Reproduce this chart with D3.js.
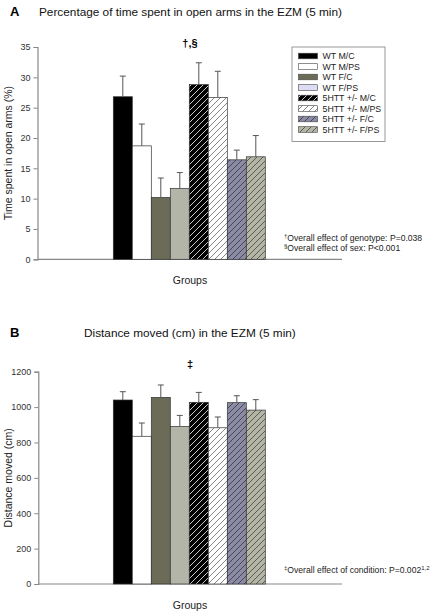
<!DOCTYPE html>
<html><head><meta charset="utf-8">
<script src="https://cdn.jsdelivr.net/npm/d3@7"></script>
<style>body{margin:0;background:#fff}svg{display:block;font-family:"Liberation Sans",Arial,sans-serif}</style>
</head><body><svg id="c" width="430" height="614"></svg>
<script>
const groups = ["WT M/C","WT M/PS","WT F/C","WT F/PS","5HTT +/- M/C","5HTT +/- M/PS","5HTT +/- F/C","5HTT +/- F/PS"];
const timeMean = [26.8, 18.7, 10.2, 11.7, 28.8, 26.7, 16.4, 16.9];
const timeErr  = [3.4, 3.6, 3.2, 2.6, 3.6, 4.3, 1.6, 3.5];
const distMean = [1040, 835, 1055, 891, 1027, 883, 1025, 983];
const distErr  = [47, 75, 70, 62, 56, 61, 39, 59];
const ticksA = [0,5,10,15,20,25,30,35];
const ticksB = [0,200,400,600,800,1000,1200];

const fills   = ["#000000","#ffffff","#6b6b57","#b4b5a9","#000000","#ffffff","#8b8ba4","#b4b5a4"];
const legendFills = ["#000000","#ffffff","#6b6b57","#dcdcf4","#000000","#ffffff","#8b8ba4","#b4b5a4"];
const hatchLine = [null,null,null,null,"#ffffff","#666666","#333344","#444444"];

const svg = d3.select("#c");
const defs = svg.append("defs");
groups.forEach((g,i)=>{
  if(!hatchLine[i]) return;
  const p = defs.append("pattern").attr("id","h"+i).attr("patternUnits","userSpaceOnUse")
    .attr("width",6).attr("height",6);
  p.append("rect").attr("width",6).attr("height",6).attr("fill",fills[i]);
  p.append("path").attr("d","M0,6L6,0M-1,1L1,-1M5,7L7,5").attr("stroke",hatchLine[i]).attr("stroke-width",0.8);
});
const fillOf = (i, legend) => hatchLine[i] ? `url(#h${i})` : (legend ? legendFills[i] : fills[i]);

function panel(o){
  const g = svg.append("g");
  const x = d3.scaleBand().domain(groups).range([113.3, 265.3]).padding(0);
  const y = d3.scaleLinear().domain([0, o.max]).range([o.y0, o.yTop]);
  g.append("text").attr("x",10).attr("y",o.titleY).attr("font-size",13).attr("font-weight","bold").text(o.letter);
  g.append("text").attr("x",o.titleX).attr("y",o.titleY).attr("font-size",11.8).attr("fill","#111").text(o.title);
  const ya = g.append("g").attr("transform",`translate(${o.axX},0)`)
    .call(d3.axisLeft(y).tickValues(o.ticks).tickFormat(d3.format("d")).tickSize(4).tickPadding(3));
  ya.select(".domain").attr("stroke","#888").attr("stroke-width",1.2);
  ya.selectAll(".tick line").attr("stroke","#888");
  ya.selectAll(".tick text").attr("font-size",9).attr("fill","#333").attr("font-family","Liberation Sans, Arial, sans-serif");
  g.append("line").attr("x1",o.axX).attr("x2",342).attr("y1",y(0)).attr("y2",y(0)).attr("stroke","#888").attr("stroke-width",1.2);
  g.selectAll("rect.bar").data(o.mean).join("rect").attr("class","bar")
    .attr("x",(d,i)=>x(groups[i])).attr("width",x.bandwidth())
    .attr("y",d=>y(d)).attr("height",d=>y(0)-y(d))
    .attr("fill",(d,i)=>fillOf(i,false)).attr("stroke","#333").attr("stroke-width",0.7);
  o.mean.forEach((m,i)=>{
    const cx = x(groups[i]) + x.bandwidth()/2;
    g.append("line").attr("x1",cx).attr("x2",cx).attr("y1",y(m)).attr("y2",y(m+o.err[i])).attr("stroke","#555").attr("stroke-width",1);
    g.append("line").attr("x1",cx-3).attr("x2",cx+3).attr("y1",y(m+o.err[i])).attr("y2",y(m+o.err[i])).attr("stroke","#555").attr("stroke-width",1);
  });
  g.append("text").attr("transform",`translate(${o.ylabX},${(o.y0+o.yTop)/2}) rotate(-90)`)
    .attr("text-anchor","middle").attr("font-size",10.5).attr("fill","#222").text(o.ylabel);
  g.append("text").attr("x",190).attr("y",o.groupsY).attr("text-anchor","middle").attr("font-size",10.5).attr("fill","#222").text("Groups");
  g.append("text").attr("x",190).attr("y",o.sigY).attr("text-anchor","middle").attr("font-size",11).attr("font-weight","bold").text(o.sig);
  o.notes.forEach((n,k)=>{
    const t = g.append("text").attr("x",284).attr("y",o.noteY + k*10).attr("font-size",8.6).attr("fill","#222");
    t.append("tspan").attr("font-size",6).attr("dy",-3).text(n[0]);
    t.append("tspan").attr("dy",3).text(n[1]);
    if(n[2]) t.append("tspan").attr("font-size",6).attr("dy",-3).text(n[2]);
  });
  return g;
}

panel({letter:"A", title:"Percentage of time spent in open arms in the EZM (5 min)", titleX:39, titleY:16,
  max:35, y0:259.3, yTop:47, axX:37.5, ticks:ticksA, mean:timeMean, err:timeErr,
  ylabel:"Time spent in open arms (%)", ylabX:12, groupsY:284, sig:"†,§", sigY:47,
  notes:[["†","Overall effect of genotype: P=0.038"],["§","Overall effect of sex: P<0.001"]], noteY:241});

panel({letter:"B", title:"Distance moved (cm) in the EZM (5 min)", titleX:84, titleY:337,
  max:1200, y0:584, yTop:371.7, axX:38.3, ticks:ticksB, mean:distMean, err:distErr,
  ylabel:"Distance moved (cm)", ylabX:12, groupsY:609, sig:"‡", sigY:368,
  notes:[["‡","Overall effect of condition: P=0.002","1,2"]], noteY:573});

const lg = svg.append("g");
lg.append("rect").attr("x",292).attr("y",47).attr("width",93).attr("height",94.5)
  .attr("fill","#fff").attr("stroke","#999").attr("stroke-width",1);
groups.forEach((gname,i)=>{
  const cy = 56 + i*10.5;
  lg.append("rect").attr("x",298.5).attr("y",cy-2.8).attr("width",19).attr("height",5.6)
    .attr("fill",fillOf(i,true)).attr("stroke","#444").attr("stroke-width",0.6);
  lg.append("text").attr("x",322.5).attr("y",cy+3.2).attr("font-size",8.8).attr("fill","#222").text(gname);
});
</script></body></html>
